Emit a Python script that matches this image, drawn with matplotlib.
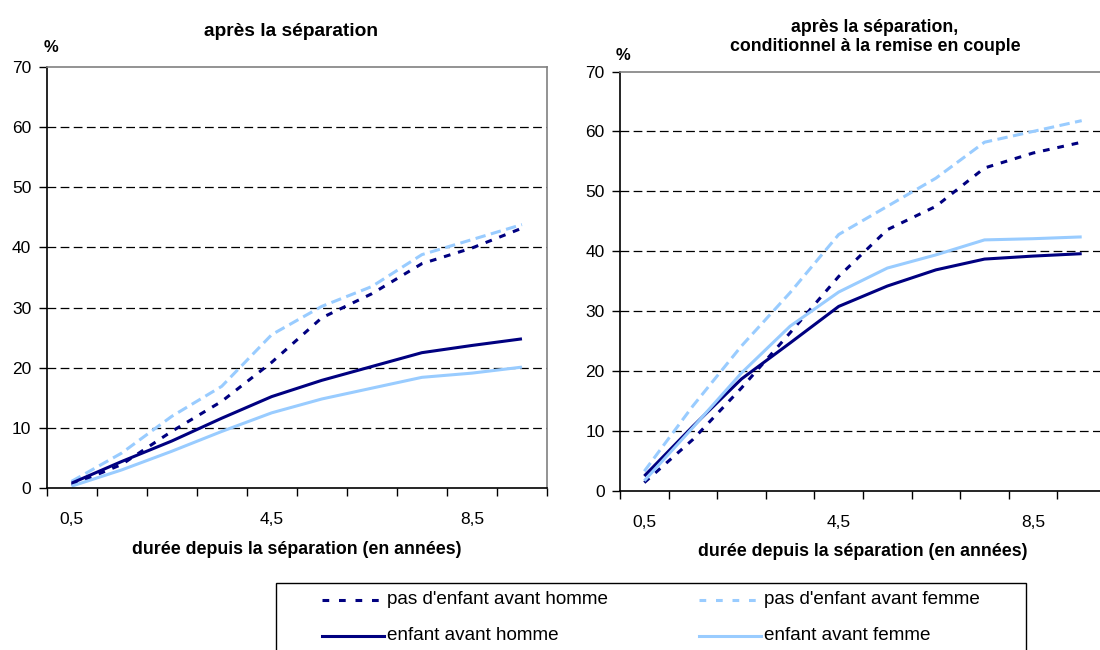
import matplotlib.pyplot as plt
from matplotlib.lines import Line2D
from matplotlib.patches import Rectangle

# durée depuis la séparation (années)
durees = [0.5, 1.5, 2.5, 3.5, 4.5, 5.5, 6.5, 7.5, 8.5, 9.5]
xtick_vals = [0.5, 4.5, 8.5]
xtick_labels = ["0,5", "4,5", "8,5"]

# après la séparation
g_pas_homme = [0.5, 3.9, 9.4, 14.4, 20.9, 28.3, 32.3, 37.3, 39.9, 43.2]
g_pas_femme = [1.1, 5.8, 11.9, 16.9, 25.5, 30.2, 33.5, 38.8, 41.3, 43.8]
g_enf_homme = [0.8, 4.4, 7.8, 11.6, 15.2, 17.9, 20.2, 22.5, 23.7, 24.8]
g_enf_femme = [0.3, 3.0, 6.1, 9.4, 12.5, 14.8, 16.6, 18.4, 19.1, 20.1]

# conditionnel à la remise en couple
d_pas_homme = [1.4, 8.6, 17.2, 26.4, 35.8, 43.6, 47.5, 53.9, 56.4, 58.2]
d_pas_femme = [3.3, 14.2, 24.2, 33.1, 42.8, 47.5, 52.2, 58.2, 60.0, 61.8]
d_enf_homme = [2.5, 10.8, 18.7, 24.7, 30.8, 34.2, 36.9, 38.7, 39.2, 39.6]
d_enf_femme = [1.7, 10.6, 19.7, 27.5, 33.2, 37.2, 39.4, 41.9, 42.1, 42.4]

labels = ["pas d'enfant avant homme", "pas d'enfant avant femme",
          "enfant avant homme", "enfant avant femme"]

DARK = "#000080"
LIGHT = "#99CCFF"
styles = [
    dict(color=DARK, lw=2.2, dashes=(2.2, 2.6)),
    dict(color=LIGHT, lw=2.2, dashes=(3.4, 1.8)),
    dict(color=DARK, lw=2.2),
    dict(color=LIGHT, lw=2.2),
]

plt.rcParams['font.family'] = ['Liberation Sans', 'DejaVu Sans']

W, H = 1100, 650
fig = plt.figure(figsize=(11, 6.5), dpi=100)


def px_axes(x0, y0, x1, y1):
    return fig.add_axes([x0 / W, 1 - y1 / H, (x1 - x0) / W, (y1 - y0) / H])


def setup(ax, series):
    for s, st in zip(series, styles):
        ax.plot(durees, s, solid_capstyle='butt', dash_capstyle='butt', **st)
    ax.set_xlim(0, 10)
    ax.set_ylim(0, 70)
    ax.set_yticks(range(0, 71, 10))
    ax.set_xticks(xtick_vals)
    ax.set_xticklabels(xtick_labels)
    ax.set_xticks(range(0, 11), minor=True)
    ax.tick_params(axis='x', which='major', length=0, pad=17, labelsize=12.5)
    ax.tick_params(axis='x', which='minor', length=6, width=1, direction='out')
    ax.tick_params(axis='y', length=6, width=1, pad=5, labelsize=12.5)
    for v in range(10, 70, 10):
        ax.axhline(v, color='black', lw=0.9, dashes=(7, 3.5), zorder=0)
    for sp in ['top', 'right']:
        ax.spines[sp].set_color('#808080')
        ax.spines[sp].set_linewidth(1.2)
    for sp in ['left', 'bottom']:
        ax.spines[sp].set_color('black')
        ax.spines[sp].set_linewidth(1.2)
    ax.set_xlabel("durée depuis la séparation (en années)", fontsize=12.8,
                  fontweight='bold', labelpad=10)
    return ax


ax1 = px_axes(46.5, 67, 547, 488)
setup(ax1, [g_pas_homme, g_pas_femme, g_enf_homme, g_enf_femme])
ax2 = px_axes(620, 71.5, 1106, 491)
setup(ax2, [d_pas_homme, d_pas_femme, d_enf_homme, d_enf_femme])

fig.text(291 / W, 1 - 32 / H, "après la séparation", ha='center', va='center',
         fontsize=13.8, fontweight='bold')
fig.text(875 / W, 1 - 37 / H, "après la séparation,\nconditionnel à la remise en couple",
         ha='center', va='center', fontsize=12.8, fontweight='bold', linespacing=1.15)
fig.text(51 / W, 1 - 48 / H, "%", ha='center', va='center', fontsize=12, fontweight='bold')
fig.text(623 / W, 1 - 55 / H, "%", ha='center', va='center', fontsize=12, fontweight='bold')

# legend box (cut by the bottom edge, as in the original)
fig.patches.append(Rectangle((276 / W, -0.05), (1026 - 276) / W, 0.05 + 1 - 583 / H,
                             transform=fig.transFigure, fill=False, edgecolor='black',
                             lw=1.0, figure=fig))
pos = [(322, 600), (699, 600), (322, 636), (699, 636)]
for (x, y), lab, st in zip(pos, labels, styles):
    st2 = dict(st)
    if 'dashes' in st2:
        st2['dashes'] = (2.2, 3.2)
    fig.lines.append(Line2D([x / W, (x + 62) / W], [1 - y / H, 1 - y / H],
                            transform=fig.transFigure, figure=fig,
                            dash_capstyle='butt', **st2))
    fig.text((x + 65) / W, 1 - y / H, lab, ha='left', va='center', fontsize=13.6)

fig.savefig("out.png", dpi=100)
